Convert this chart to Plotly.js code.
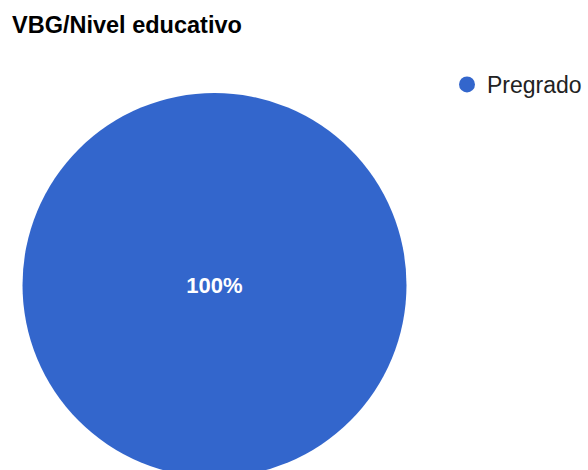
<!DOCTYPE html>
<html>
<head>
<meta charset="utf-8">
<script src="https://cdn.plot.ly/plotly-3.0.1.min.js"></script>
<style>
  html, body { margin: 0; padding: 0; background: #ffffff; overflow: hidden; }
  #chart { width: 588px; height: 480px; }
</style>
</head>
<body>
<div id="chart"></div>
<script>
// Data
const categories = ["Pregrado"];
const values = [100];
const colors = ["#3366cc"];
const chartTitle = "VBG/Nivel educativo";

const W = 588, H = 480;
const cx = 214.5, cyTop = 285, r = 192;

const pieTrace = {
  type: "pie",
  labels: categories,
  values: values,
  marker: { colors: colors, line: { width: 0 } },
  textinfo: "percent",
  texttemplate: "<b>%{percent}</b>",
  textposition: "inside",
  insidetextorientation: "horizontal",
  textfont: { family: "Liberation Sans, Arial, sans-serif", size: 22, color: "#ffffff" },
  sort: false,
  direction: "clockwise",
  showlegend: false,
  hoverinfo: "label+percent",
  domain: {
    x: [(cx - r) / W, (cx + r) / W],
    y: [(H - cyTop - r) / H, (H - cyTop + r) / H]
  }
};

// legend entry with a round symbol, one per category
const legendTraces = categories.map((c, i) => ({
  type: "scatter",
  mode: "markers",
  x: [null],
  y: [null],
  name: c,
  marker: { symbol: "circle", size: 20, color: colors[i] },
  showlegend: true,
  hoverinfo: "skip"
}));

const layout = {
  width: W,
  height: H,
  margin: { l: 0, r: 0, t: 0, b: 0 },
  paper_bgcolor: "#ffffff",
  plot_bgcolor: "#ffffff",
  title: {
    text: "<b>" + chartTitle + "</b>",
    font: { family: "Liberation Sans, Arial, sans-serif", size: 23.5, color: "#000000" },
    xref: "container", yref: "container",
    x: 12 / W, xanchor: "left",
    y: 1 - 25 / H, yanchor: "middle"
  },
  xaxis: { visible: false },
  yaxis: { visible: false },
  showlegend: true,
  legend: {
    x: 447 / W, xanchor: "left",
    y: 1 - 63 / H, yanchor: "top",
    font: { family: "Liberation Sans, Arial, sans-serif", size: 23, color: "#222222" },
    bgcolor: "rgba(0,0,0,0)",
    borderwidth: 0
  }
};

Plotly.newPlot("chart", [pieTrace].concat(legendTraces), layout, { displayModeBar: false, staticPlot: true });
</script>
</body>
</html>
